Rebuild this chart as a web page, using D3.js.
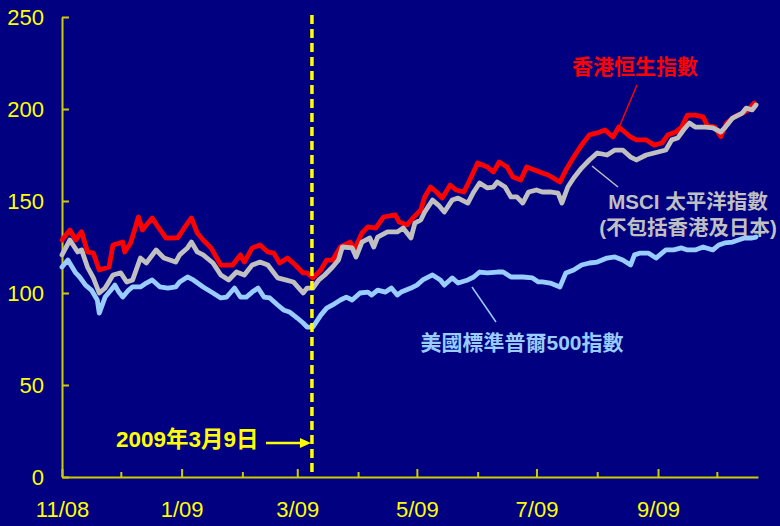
<!DOCTYPE html>
<html>
<head>
<meta charset="utf-8">
<script src="https://cdn.jsdelivr.net/npm/d3@7/dist/d3.min.js"></script>
<style>
html,body{margin:0;padding:0;background:#000080;}
svg{display:block;}
</style>
</head>
<body>
<svg id="chart" width="780" height="526"></svg>
<script>
// ---- data: [days since 2008-11-01, index value] ----
const hangSeng = [[0,128.8],[4,134.2],[7,128.8],[10,133.3],[13,122.4],[16,121.7],[19,112.5],[24,114.1],[26,126.1],[31,127.7],[32,122.3],[35,127.2],[39,141.3],[41,134.2],[46,140.8],[49,135.9],[53,129.9],[59,130],[62,134.8],[66,140.8],[69,132.6],[72,128.8],[76,124.5],[81,115.2],[87,115.2],[91,120.7],[93,116.8],[97,124.5],[101,126.1],[105,122.3],[108,121.7],[111,116.3],[115,119],[119,115.2],[123,110.9],[125,110.9],[128,108.2],[132,112.5],[135,117.9],[138,117.9],[142,125],[147,127.7],[149,123.4],[153,132.6],[156,135.9],[160,135.3],[164,141.3],[170,142.4],[172,138.6],[176,137],[179,140.8],[183,145.1],[185,152.2],[188,157.6],[191,154.9],[194,151.6],[198,158.7],[201,156],[205,154.9],[208,161.4],[212,170.7],[217,168.5],[220,165.8],[223,171.2],[227,168.5],[230,163],[234,161.4],[237,168.5],[241,166.8],[245,165.2],[248,164.1],[254,160.3],[257,166.8],[261,173.9],[265,180.4],[269,185.9],[273,187],[277,188.6],[281,184.8],[284,190.2],[287,187.5],[290,184.8],[293,183.2],[298,183.2],[302,180.4],[306,181.5],[309,185.9],[313,187.5],[316,190.2],[319,196.7],[323,196.7],[327,195.7],[329,191.3],[333,190.2],[336,185],[339,192.4],[343,195.7],[347,197.8],[350,199.5],[353,203.3]];
const msciPacific = [[0,120.7],[4,128.8],[8,122.3],[10,123.4],[13,114.1],[16,108.2],[19,100],[22,102.7],[26,109.8],[30,110.9],[33,106],[36,107.1],[40,119],[43,116.3],[48,123.4],[52,119],[58,116.8],[60,120.7],[64,124.5],[66,127.7],[69,122.3],[72,120.7],[77,116.3],[81,109.8],[85,107.1],[89,111.4],[93,109.8],[97,115.2],[101,116.8],[105,115.2],[110,108.2],[114,107.1],[118,106],[123,100],[125,102.7],[128,102.7],[131,107.1],[134,109.8],[138,114.1],[141,117.9],[143,125],[148,124.5],[150,119.6],[153,127.7],[157,129.9],[159,125],[161,130.4],[166,133.2],[171,133.2],[174,135.3],[178,129.9],[180,138],[183,139.7],[185,144],[189,150.5],[192,147.8],[195,144],[199,150.5],[202,151.6],[207,148.9],[210,154.9],[213,159.8],[217,157.1],[220,157.6],[222,160.3],[226,157.6],[229,152.2],[232,152.2],[235,148.9],[238,154.9],[242,156],[245,154.9],[249,154.9],[253,154.3],[255,148.9],[258,157.6],[261,162.5],[265,167.9],[269,172.3],[273,176.1],[278,175],[282,177.7],[286,177.7],[290,173.9],[293,172.3],[298,175],[302,176.1],[308,177.7],[311,183.2],[314,184.2],[317,188.6],[320,192.4],[323,190.2],[328,190.2],[332,189.7],[336,187.5],[338,189.7],[342,195.1],[347,197.8],[349,200.5],[352,199.5],[354,202.2]];
const sp500 = [[0,114.1],[3,117.9],[7,110.9],[9,108.7],[12,104.3],[15,101.6],[18,96.2],[19,89.1],[22,97.8],[25,101.6],[27,104.3],[29,100.5],[31,97.8],[34,101.6],[36,103.3],[40,103.3],[43,105.4],[46,107.1],[50,103.3],[54,102.7],[58,103.3],[60,106],[64,108.7],[67,107.1],[72,103.3],[77,100],[81,97.3],[84,97.8],[88,102.7],[91,97.8],[94,97.8],[97,100.5],[100,102.7],[103,97.8],[106,97.3],[110,93.5],[113,90.8],[116,89.7],[120,86.4],[123,83.7],[125,81.5],[128,81.5],[132,88],[135,91.8],[138,93.5],[142,96.2],[145,97.8],[148,96.2],[152,100],[156,100.5],[158,98.9],[161,101.6],[165,100.5],[168,102.7],[171,98.9],[173,100.5],[178,102.7],[181,104.3],[184,107.1],[186,108.2],[189,109.8],[193,107.1],[195,104.3],[199,108.2],[202,105.4],[207,107.1],[210,108.7],[213,111.4],[217,110.9],[222,111.4],[225,111.4],[229,108.7],[232,108.7],[235,108.7],[240,108.2],[243,106],[245,106],[249,105.4],[254,103.3],[257,110.9],[261,112.5],[265,115.2],[269,116.3],[273,116.8],[278,119],[282,119.6],[286,117.9],[290,115.2],[292,120.7],[295,121.7],[299,121.7],[303,119],[308,123.4],[312,123.4],[316,124.5],[319,123.4],[323,123.4],[327,125],[332,123.4],[335,126.1],[338,127.2],[342,127.7],[345,128.8],[348,129.9],[352,129.9],[354,130.4]];

const seriesNames = ["香港恒生指數", "MSCI 太平洋指數", "(不包括香港及日本)", "美國標準普爾500指數"];
const yTicks = [0, 50, 100, 150, 200, 250];
const xTickLabels = ["11/08", "", "1/09", "", "3/09", "", "5/09", "", "7/09", "", "9/09", ""];
const eventLabel = "2009年3月9日";
const eventDate = Date.UTC(2009, 2, 9);
const startDate = Date.UTC(2008, 10, 1);
const endDate = Date.UTC(2009, 9, 22);

// ---- drawing ----
const svg = d3.select("#chart");
const W = 780, H = 526;
svg.append("rect").attr("width", W).attr("height", H).attr("fill", "#000080");

const x = d3.scaleUtc().domain([new Date(startDate), new Date(endDate)]).range([62, 758]);
const y = d3.scaleLinear().domain([0, 250]).range([477, 17]);
const toDate = d => d3.utcDay.offset(new Date(startDate), d);

const axisColor = "#cccc00";
const labelFont = "'Liberation Sans', Arial, sans-serif";
const cjkFont = "'Liberation Sans', Arial, 'Noto Sans CJK TC', sans-serif";

// y axis
const yAxis = svg.append("g").attr("transform", "translate(62,0)")
  .call(d3.axisLeft(y).tickValues(yTicks).tickSizeInner(-7).tickSizeOuter(0).tickPadding(18));
yAxis.select(".domain").attr("stroke", axisColor).attr("stroke-width", 2);
yAxis.selectAll(".tick line").attr("stroke", axisColor).attr("stroke-width", 2);
yAxis.selectAll(".tick text").attr("fill", "#ffff00").attr("font-size", 22).attr("font-family", labelFont);

// x axis
const months = d3.utcMonths(new Date(startDate), new Date(endDate));
const xAxis = svg.append("g").attr("transform", "translate(0,477)")
  .call(d3.axisBottom(x).tickValues(months).tickSizeInner(-8).tickSizeOuter(0).tickPadding(24)
    .tickFormat((d, i) => xTickLabels[i] || ""));
xAxis.select(".domain").attr("stroke", axisColor).attr("stroke-width", 2);
xAxis.selectAll(".tick line").attr("stroke", axisColor).attr("stroke-width", 2)
  .attr("y2", (d, i) => xTickLabels[i] ? -8 : -5);
xAxis.selectAll(".tick text").attr("fill", "#ffff00").attr("font-size", 22).attr("font-family", labelFont);

// lines
const line = d3.line().x(d => x(toDate(d[0]))).y(d => y(d[1]));
[[hangSeng, "#ff0000"], [msciPacific, "#c0c0c0"], [sp500, "#99ccff"]].forEach(([data, color]) => {
  svg.append("path").datum(data).attr("d", line)
    .attr("fill", "none").attr("stroke", color).attr("stroke-width", 4.8)
    .attr("stroke-linejoin", "round").attr("stroke-linecap", "round");
});

// event dashed line
const ex = x(new Date(eventDate)) - 1;
svg.append("line").attr("x1", ex).attr("x2", ex).attr("y1", 15).attr("y2", 477)
  .attr("stroke", "#ffff00").attr("stroke-width", 3.5).attr("stroke-dasharray", "9,5");

// event annotation
svg.append("text").attr("x", 116).attr("y", 447).text(eventLabel)
  .attr("fill", "#ffff00").attr("font-size", 22.5).attr("font-weight", "bold")
  .attr("font-family", cjkFont);
svg.append("line").attr("x1", ex - 46).attr("x2", ex - 10).attr("y1", 443).attr("y2", 443)
  .attr("stroke", "#ffff00").attr("stroke-width", 2.5);
svg.append("path")
  .attr("d", `M${ex - 1},443 L${ex - 12},438 L${ex - 12},448 Z`)
  .attr("fill", "#ffff00");

// series labels and leaders
svg.append("line").attr("x1", 637).attr("y1", 85).attr("x2", 620).attr("y2", 125)
  .attr("stroke", "#ff0000").attr("stroke-width", 1.5);
svg.append("text").attr("x", 635).attr("y", 74).attr("text-anchor", "middle").text(seriesNames[0])
  .attr("fill", "#ff0000").attr("font-size", 21).attr("font-weight", "bold").attr("font-family", cjkFont);

svg.append("line").attr("x1", 592).attr("y1", 166).attr("x2", 618).attr("y2", 187)
  .attr("stroke", "#c0c0c0").attr("stroke-width", 1.5);
svg.append("text").attr("x", 688).attr("y", 209).attr("text-anchor", "middle").text(seriesNames[1])
  .attr("fill", "#c0c0c0").attr("font-size", 20.5).attr("font-weight", "bold").attr("font-family", cjkFont);
svg.append("text").attr("x", 688).attr("y", 235).attr("text-anchor", "middle").text(seriesNames[2])
  .attr("fill", "#c0c0c0").attr("font-size", 20.5).attr("font-weight", "bold").attr("font-family", cjkFont);

svg.append("line").attr("x1", 472).attr("y1", 287).attr("x2", 496).attr("y2", 322)
  .attr("stroke", "#99ccff").attr("stroke-width", 1.5);
svg.append("text").attr("x", 522).attr("y", 350).attr("text-anchor", "middle").text(seriesNames[3])
  .attr("fill", "#99ccff").attr("font-size", 21).attr("font-weight", "bold").attr("font-family", cjkFont);
</script>
</body>
</html>
